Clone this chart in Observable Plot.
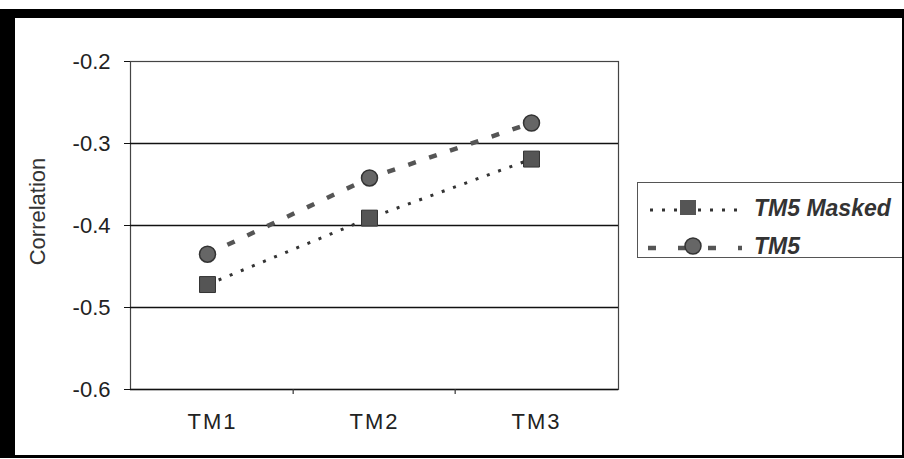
<!DOCTYPE html>
<html>
<head>
<meta charset="utf-8">
<script src="https://cdn.jsdelivr.net/npm/d3@7"></script>
<script src="https://cdn.jsdelivr.net/npm/@observablehq/plot@0.6"></script>
<style>
  html, body { margin: 0; padding: 0; background: #fff; }
  #wrap { position: relative; width: 904px; height: 459px; overflow: hidden; font-family: "Liberation Sans", Arial, sans-serif; }
  #border { position: absolute; left: 0; top: 9px; width: 887px; height: 437px; border-top: 9px solid #000; border-left: 15px solid #000; border-right: 2px solid #000; border-bottom: 3px solid #000; pointer-events: none; }
  #legend { position: absolute; left: 637px; top: 182px; width: 280px; height: 74px; border: 1.5px solid #555; background: #fff; }
  #legend .row { position: absolute; left: 0; height: 30px; display: flex; align-items: center; }
  #legend .lab { font: italic bold 23px "Liberation Sans", Arial, sans-serif; color: #333; margin-left: 4px; }
  .xlab text { letter-spacing: 2px; }
</style>
</head>
<body>
<div id="wrap">
  <div id="chart"></div>
  <div id="legend"></div>
  <div id="border"></div>
</div>
<script>
const categories = ["TM1", "TM2", "TM3"];
const tm5Masked = [-0.472, -0.391, -0.319];
const tm5 = [-0.435, -0.342, -0.275];
const yTicks = [-0.6, -0.5, -0.4, -0.3, -0.2];
const gridValues = [-0.5, -0.4, -0.3];
const seriesNames = ["TM5 Masked", "TM5"];
const yTitle = "Correlation";

const rows = [];
categories.forEach((c, i) => {
  rows.push({cat: c, value: tm5Masked[i], series: seriesNames[0]});
  rows.push({cat: c, value: tm5[i], series: seriesNames[1]});
});
const masked = rows.filter(d => d.series === seriesNames[0]);
const plain = rows.filter(d => d.series === seriesNames[1]);

const W = 904, H = 459, mL = 130, mR = 286, mT = 61, mB = 70;
const halfBand = (W - mL - mR) / categories.length / 2;
const shift = -5;

const chart = Plot.plot({
  width: W,
  height: H,
  marginLeft: mL,
  marginRight: mR,
  marginTop: mT,
  marginBottom: mB,
  style: {fontFamily: "'Liberation Sans', Arial, sans-serif", fontSize: "22px", color: "#222", background: "transparent"},
  x: {type: "band", domain: categories, padding: 0},
  y: {domain: [-0.6, -0.2]},
  marks: [
    Plot.frame({stroke: "#444", strokeWidth: 1.2}),
    Plot.ruleY(gridValues, {stroke: "#111", strokeWidth: 1.6}),
    Plot.ruleY([-0.6], {stroke: "#111", strokeWidth: 1.6}),
    Plot.ruleX(categories.slice(1), {x: d => d, dx: -halfBand, stroke: "#333", strokeWidth: 1.2, insetTop: H - mT - mB, insetBottom: -5}),
    Plot.axisY({ticks: yTicks, tickFormat: d => d.toFixed(1), tickSize: 6, tickPadding: 14, stroke: "#111", label: null, fontSize: 22}),
    Plot.text([yTitle], {text: d => d, frameAnchor: "left", textAnchor: "middle", rotate: -90, dx: -93, dy: -14, fontSize: 22, fill: "#333"}),
    Plot.axisX({tickSize: 0, tickPadding: 24, label: null, fontSize: 22, className: "xlab", fill: "#222"}),
    Plot.line(masked, {x: "cat", y: "value", dx: shift, stroke: "#333", strokeWidth: 3, strokeDasharray: "3,9", strokeLinecap: "butt"}),
    Plot.line(plain, {x: "cat", y: "value", dx: shift, stroke: "#555", strokeWidth: 4.5, strokeDasharray: "8,14", strokeLinecap: "butt"}),
    Plot.dot(masked, {x: "cat", y: "value", dx: shift, symbol: "square", r: 9, fill: "#555", stroke: "#333", strokeWidth: 1}),
    Plot.dot(plain, {x: "cat", y: "value", dx: shift, symbol: "circle", r: 8, fill: "#666", stroke: "#333", strokeWidth: 1.5})
  ]
});
document.getElementById("chart").appendChild(chart);

// Legend
const legend = document.getElementById("legend");
function addRow(top, name, kind) {
  const row = document.createElement("div");
  row.className = "row";
  row.style.top = top + "px";
  const svg = d3.create("svg").attr("width", 112).attr("height", 30);
  if (kind === "square") {
    svg.append("line").attr("x1", 12).attr("x2", 108).attr("y1", 17).attr("y2", 17)
      .attr("stroke", "#333").attr("stroke-width", 3).attr("stroke-dasharray", "3,9");
    svg.append("rect").attr("x", 42).attr("y", 7).attr("width", 16).attr("height", 15).attr("fill", "#555");
  } else {
    svg.append("line").attr("x1", 10).attr("x2", 104).attr("y1", 17).attr("y2", 17)
      .attr("stroke", "#555").attr("stroke-width", 4.5).attr("stroke-dasharray", "8,22");
    svg.append("circle").attr("cx", 55).attr("cy", 15).attr("r", 8).attr("fill", "#666").attr("stroke", "#333").attr("stroke-width", 1.5);
  }
  row.appendChild(svg.node());
  const lab = document.createElement("span");
  lab.className = "lab";
  lab.textContent = name;
  row.appendChild(lab);
  legend.appendChild(row);
}
addRow(10, seriesNames[0], "square");
addRow(48, seriesNames[1], "circle");
</script>
</body>
</html>
